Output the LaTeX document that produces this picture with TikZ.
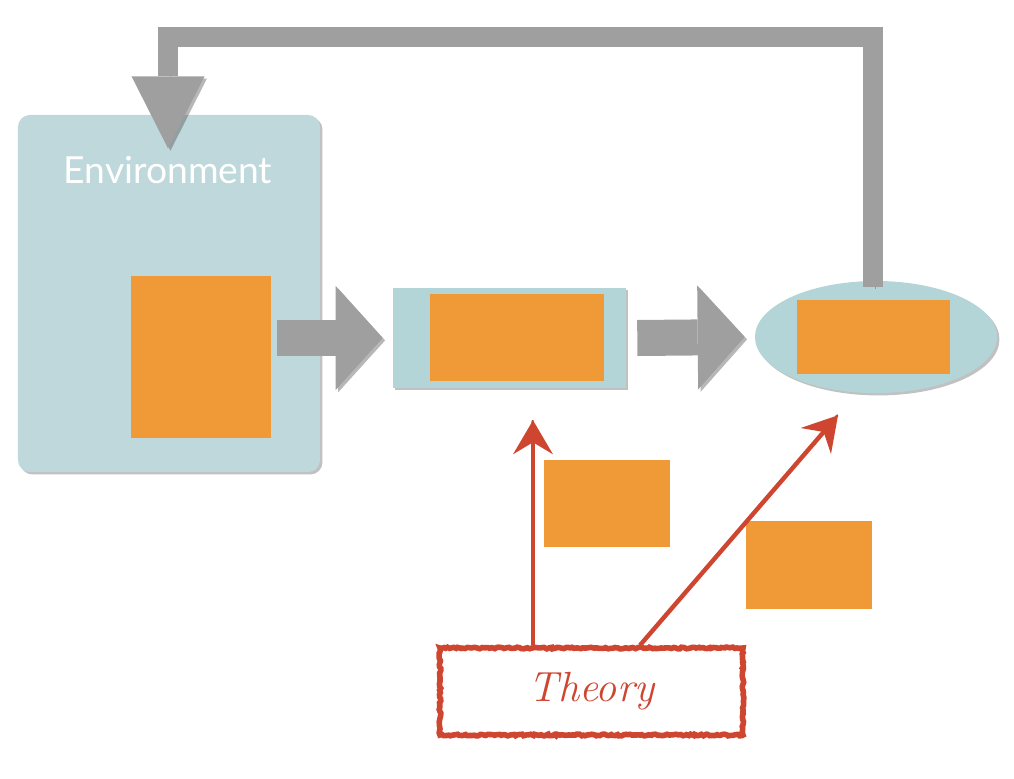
\documentclass[tikz,border=0pt]{standalone}
\usepackage{fontspec}
\newfontfamily\envfont{Lato}
\usepackage{xcolor}
\usetikzlibrary{arrows.meta, calc, shadows, shapes.geometric, decorations.pathmorphing, positioning}

\definecolor{envblue}{HTML}{BED8DC}
\definecolor{boxblue}{HTML}{B4D5D8}
\definecolor{hidden}{HTML}{EF9A37}
\definecolor{flowgray}{HTML}{9F9F9F}
\definecolor{theoryred}{HTML}{CE4530}

\tikzset{
  softshadow/.style={drop shadow={shadow xshift=0.06cm, shadow yshift=-0.06cm, opacity=0.35, fill=black!70}},
  linetrail/.style={preaction={draw=black!70, opacity=0.4, transform canvas={shift={(0.06cm,-0.06cm)}}}},
  blank/.style={fill=hidden, draw=none, inner sep=0pt},
  flow/.style={draw=flowgray, line width=0.9cm, linetrail,
    -{Triangle[length=1.175cm, width=2.6cm, line width=0pt]}},
  feedback/.style={draw=flowgray, line width=0.5cm, line join=miter, linetrail,
    -{Triangle[length=1.8cm, width=1.825cm, line width=0pt]}},
  rough/.style={decorate, decoration={random steps, segment length=1.5pt, amplitude=0.6pt}},
  theoryarrow/.style={draw=theoryred, line width=0.11cm,
    -{Stealth[length=0.85cm, width=1cm, inset=0.3cm, line width=0pt]},
    postaction={draw=theoryred, line width=0.05cm, rough, -}},
}

\begin{document}
\begin{tikzpicture}[x=0.025cm, y=-0.025cm]
\useasboundingbox (0, 0) rectangle (1014, 778);

% boxes
\node[fill=envblue, rounded corners=0.3cm, softshadow, minimum width=7.55cm, minimum height=8.925cm] (env) at (169, 293.5) {};
\node[text=white, font=\envfont\fontsize{26.5}{32}\selectfont] (envlbl) at (168, 170) {Environment};
\node[blank, minimum width=3.5cm, minimum height=4.05cm] (envin) at (201, 357) {};

\node[fill=boxblue, softshadow, minimum width=5.825cm, minimum height=2.5cm] (mid) at (509.5, 338) {};
\node[blank, minimum width=4.35cm, minimum height=2.175cm] (midin) at (517, 337.5) {};

\node[ellipse, fill=boxblue, softshadow, minimum width=6.05cm, minimum height=2.8cm] (out) at (876, 337) {};
\node[blank, minimum width=3.825cm, minimum height=1.85cm] (outin) at (873.5, 337) {};

\node[draw=theoryred, line width=0.14cm, rough, minimum width=7.575cm, minimum height=2.175cm,
      text=theoryred, font=\itshape\fontsize{30}{36}\selectfont] (thy) at (591.5, 691.5) {Theory};

\node[blank, minimum width=3.15cm, minimum height=2.175cm] (lab1) at (607, 503.5) {};
\node[blank, minimum width=3.15cm, minimum height=2.2cm] (lab2) at (809, 565) {};

% block arrows
\draw[flow] ($(envin.east |- mid.west) + (6, 0)$) -- ($(mid.west) + (-10, 0)$);
\draw[flow] ($(mid.east) + (11, 0)$) -- ($(out.west) + (-10, 0)$);

% loop back
\coordinate (fbR) at ($(out.north |- 0, 37) + (-3, 0)$);
\coordinate (fbL) at (168, 37);
\draw[feedback] ($(out.north) + (-3, 6)$) -- (fbR) -- (fbL) -- ($(envlbl.north -| fbL) + (0, -3)$);

% theory arrows
\draw[theoryarrow] ($(thy.north) + (-58.5, 0)$) -- ($(midin.south) + (16, 39)$);
\draw[theoryarrow] ($(thy.north) + (48.5, 0)$) -- ($(out.south) + (-38, 22)$);

\end{tikzpicture}
\end{document}
